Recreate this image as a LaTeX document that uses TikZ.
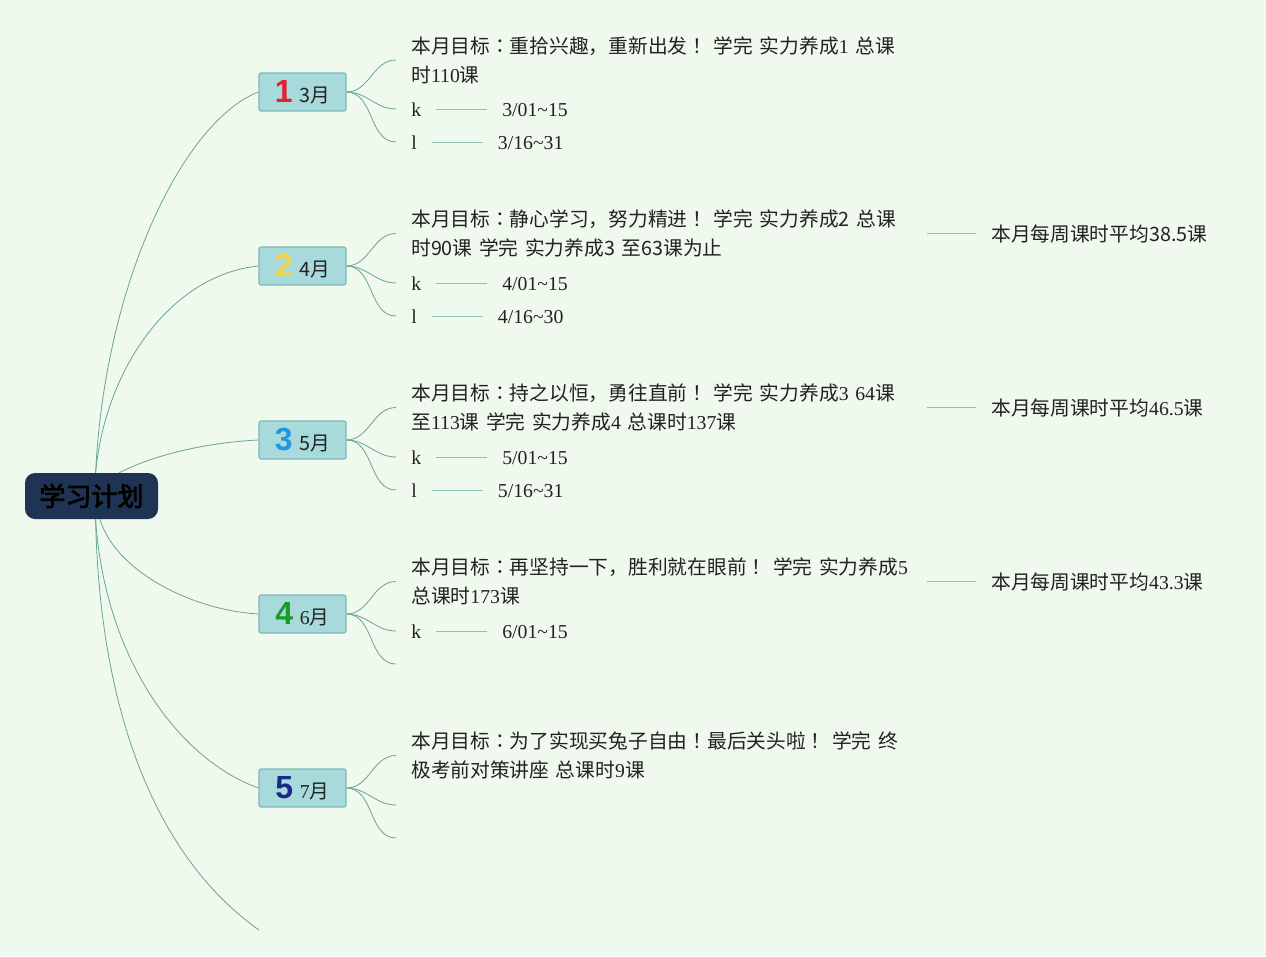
\documentclass[tikz,border=0pt]{standalone}
\usepackage{fontspec}
\setmainfont{Noto Sans CJK SC}
\newfontfamily\timesfont{Liberation Serif}
\newfontfamily\digitfont{Liberation Sans}
\newfontfamily\jpfont{Noto Sans CJK JP}
\newfontfamily\rootfont[FakeBold=3]{Noto Sans CJK SC}
\usetikzlibrary{positioning}
\definecolor{paper}{HTML}{F0F9EE}
\definecolor{navy}{HTML}{1F3354}
\definecolor{tealbox}{HTML}{A8DADC}
\definecolor{tealrim}{HTML}{7DB8B8}
\definecolor{twig}{HTML}{6AA590}
\definecolor{stubline}{HTML}{8FC4B0}
\definecolor{ink}{HTML}{222222}
\definecolor{n1}{HTML}{E3222F}
\definecolor{n2}{HTML}{F5D547}
\definecolor{n3}{HTML}{2196E3}
\definecolor{n4}{HTML}{1A9A2A}
\definecolor{n5}{HTML}{1C2A86}
\newcommand\tm[1]{{\timesfont#1}}
\newcommand\pc[1]{{\jpfont#1}}
\newcommand\bignum{\digitfont\bfseries\fontsize{24}{24}\selectfont}

\begin{document}
\begin{tikzpicture}[x=0.75pt,y=-0.75pt,
  font=\fontsize{14.8}{21.75}\selectfont, text=ink,
  root/.style={fill=navy, rounded corners=7.5pt, minimum width=99.75pt,
    minimum height=34.5pt, inner sep=0pt, text=black,
    font=\rootfont\fontsize{19.5}{20}\selectfont},
  month/.style={fill=tealbox, draw=tealrim, line width=0.8pt,
    rounded corners=1.5pt, minimum width=65.25pt, minimum height=28.5pt, inner sep=0pt},
  branch/.style={draw=twig, line width=0.6pt},
  stub/.style={draw=stubline, line width=0.7pt},
  goal/.style={anchor=west, align=left, text width=375pt, inner xsep=11.25pt, inner ysep=0pt},
  item/.style={anchor=west, inner xsep=11.25pt, text height=12pt, text depth=1.5pt,
    font=\timesfont\fontsize{14.8}{18}\selectfont},
  avg/.style={anchor=west, inner xsep=11.25pt}]
  \fill[paper] (0,0) rectangle (1266,956);
  \node[root] (plan) at (91.5,496) {学习计划};
  % months
  \foreach \n/\m/\y in {1/3/92,2/4/266,3/5/440,4/\tm{6}/614,5/\tm{7}/788}
    \node[month] (m\n) at (302.5,\y) {{\bignum\color{n\n}\n}\hspace{5pt}\m 月};
  \draw[branch] (plan.80) .. controls (105,280) and (185,120) .. (m1.west);
  \draw[branch] (plan.80) .. controls (105,370) and (170,275) .. (m2.west);
  \draw[branch] (plan.40) .. controls (160,452) and (215,442) .. (m3.west);
  \draw[branch] (plan.-70) .. controls (115,570) and (190,610) .. (m4.west);
  \draw[branch] (plan.-80) .. controls (105,660) and (180,760) .. (m5.west);
  \coordinate (tail) at (259,930);
  \draw[branch] (plan.-80) .. controls (100,720) and (160,860) .. (tail);

  % March
  \node[goal] (g1) at (396,60) {本月目标\pc{：}重拾兴趣，重新出发\pc{！}~学完~实力养成\tm{1}~总课\\时\tm{110}课};
  \node[item] (k1) at (396,109) {k};
  \node[item,right=38pt of k1] (dk1) {3/01\textasciitilde15};
  \node[item] (l1) at (396,142) {l};
  \node[item,right=38pt of l1] (dl1) {3/16\textasciitilde31};
  % April
  \node[goal] (g2) at (396,233.5) {本月目标\pc{：}静心学习，努力精进\pc{！}~学完~实力养成2~总课\\时90课~学完~实力养成3~至63课为止};
  \node[item] (k2) at (396,283) {k};
  \node[item,right=38pt of k2] (dk2) {4/01\textasciitilde15};
  \node[item] (l2) at (396,316) {l};
  \node[item,right=38pt of l2] (dl2) {4/16\textasciitilde30};
  \node[avg] (a2) at (976,233.5) {本月每周课时平均38.5课};
  % May
  \node[goal] (g3) at (396,407.5) {本月目标\pc{：}持之以恒，勇往直前\pc{！}~学完~实力养成\tm{3~64}课\\至\tm{113}课~学完~实力养成\tm{4}~总课时\tm{137}课};
  \node[item] (k3) at (396,457) {k};
  \node[item,right=38pt of k3] (dk3) {5/01\textasciitilde15};
  \node[item] (l3) at (396,490) {l};
  \node[item,right=38pt of l3] (dl3) {5/16\textasciitilde31};
  \node[avg] (a3) at (976,407.5) {本月每周课时平均\tm{46.5}课};
  % June
  \node[goal] (g4) at (396,581.5) {本月目标\pc{：}再坚持一下，胜利就在眼前\pc{！}~学完~实力养成\tm{5}\\总课时\tm{173}课};
  \node[item] (k4) at (396,631) {k};
  \node[item,right=38pt of k4] (dk4) {6/01\textasciitilde15};
  \coordinate (e4) at (396,664);
  \node[avg] (a4) at (976,581.5) {本月每周课时平均\tm{43.3}课};
  % July
  \node[goal] (g5) at (396,755.5) {本月目标\pc{：}为了实现买兔子自由\pc{！}最后关头啦\pc{！}~学完~终\\极考前对策讲座~总课时\tm{9}课};
  \coordinate (e5) at (396,805);
  \coordinate (f5) at (396,838);

  \foreach \a/\b in {m1/g1,m1/k1,m1/l1,m2/g2,m2/k2,m2/l2,m3/g3,m3/k3,m3/l3,
                     m4/g4,m4/k4,m4/e4,m5/g5,m5/e5,m5/f5}
    \draw[branch] (\a) to[out=0,in=180] (\b);
  \foreach \a/\b in {k1/dk1,l1/dl1,k2/dk2,l2/dl2,k3/dk3,l3/dl3,k4/dk4,g2/a2,g3/a3,g4/a4}
    \draw[stub] (\a) -- (\b);
\end{tikzpicture}
\end{document}
